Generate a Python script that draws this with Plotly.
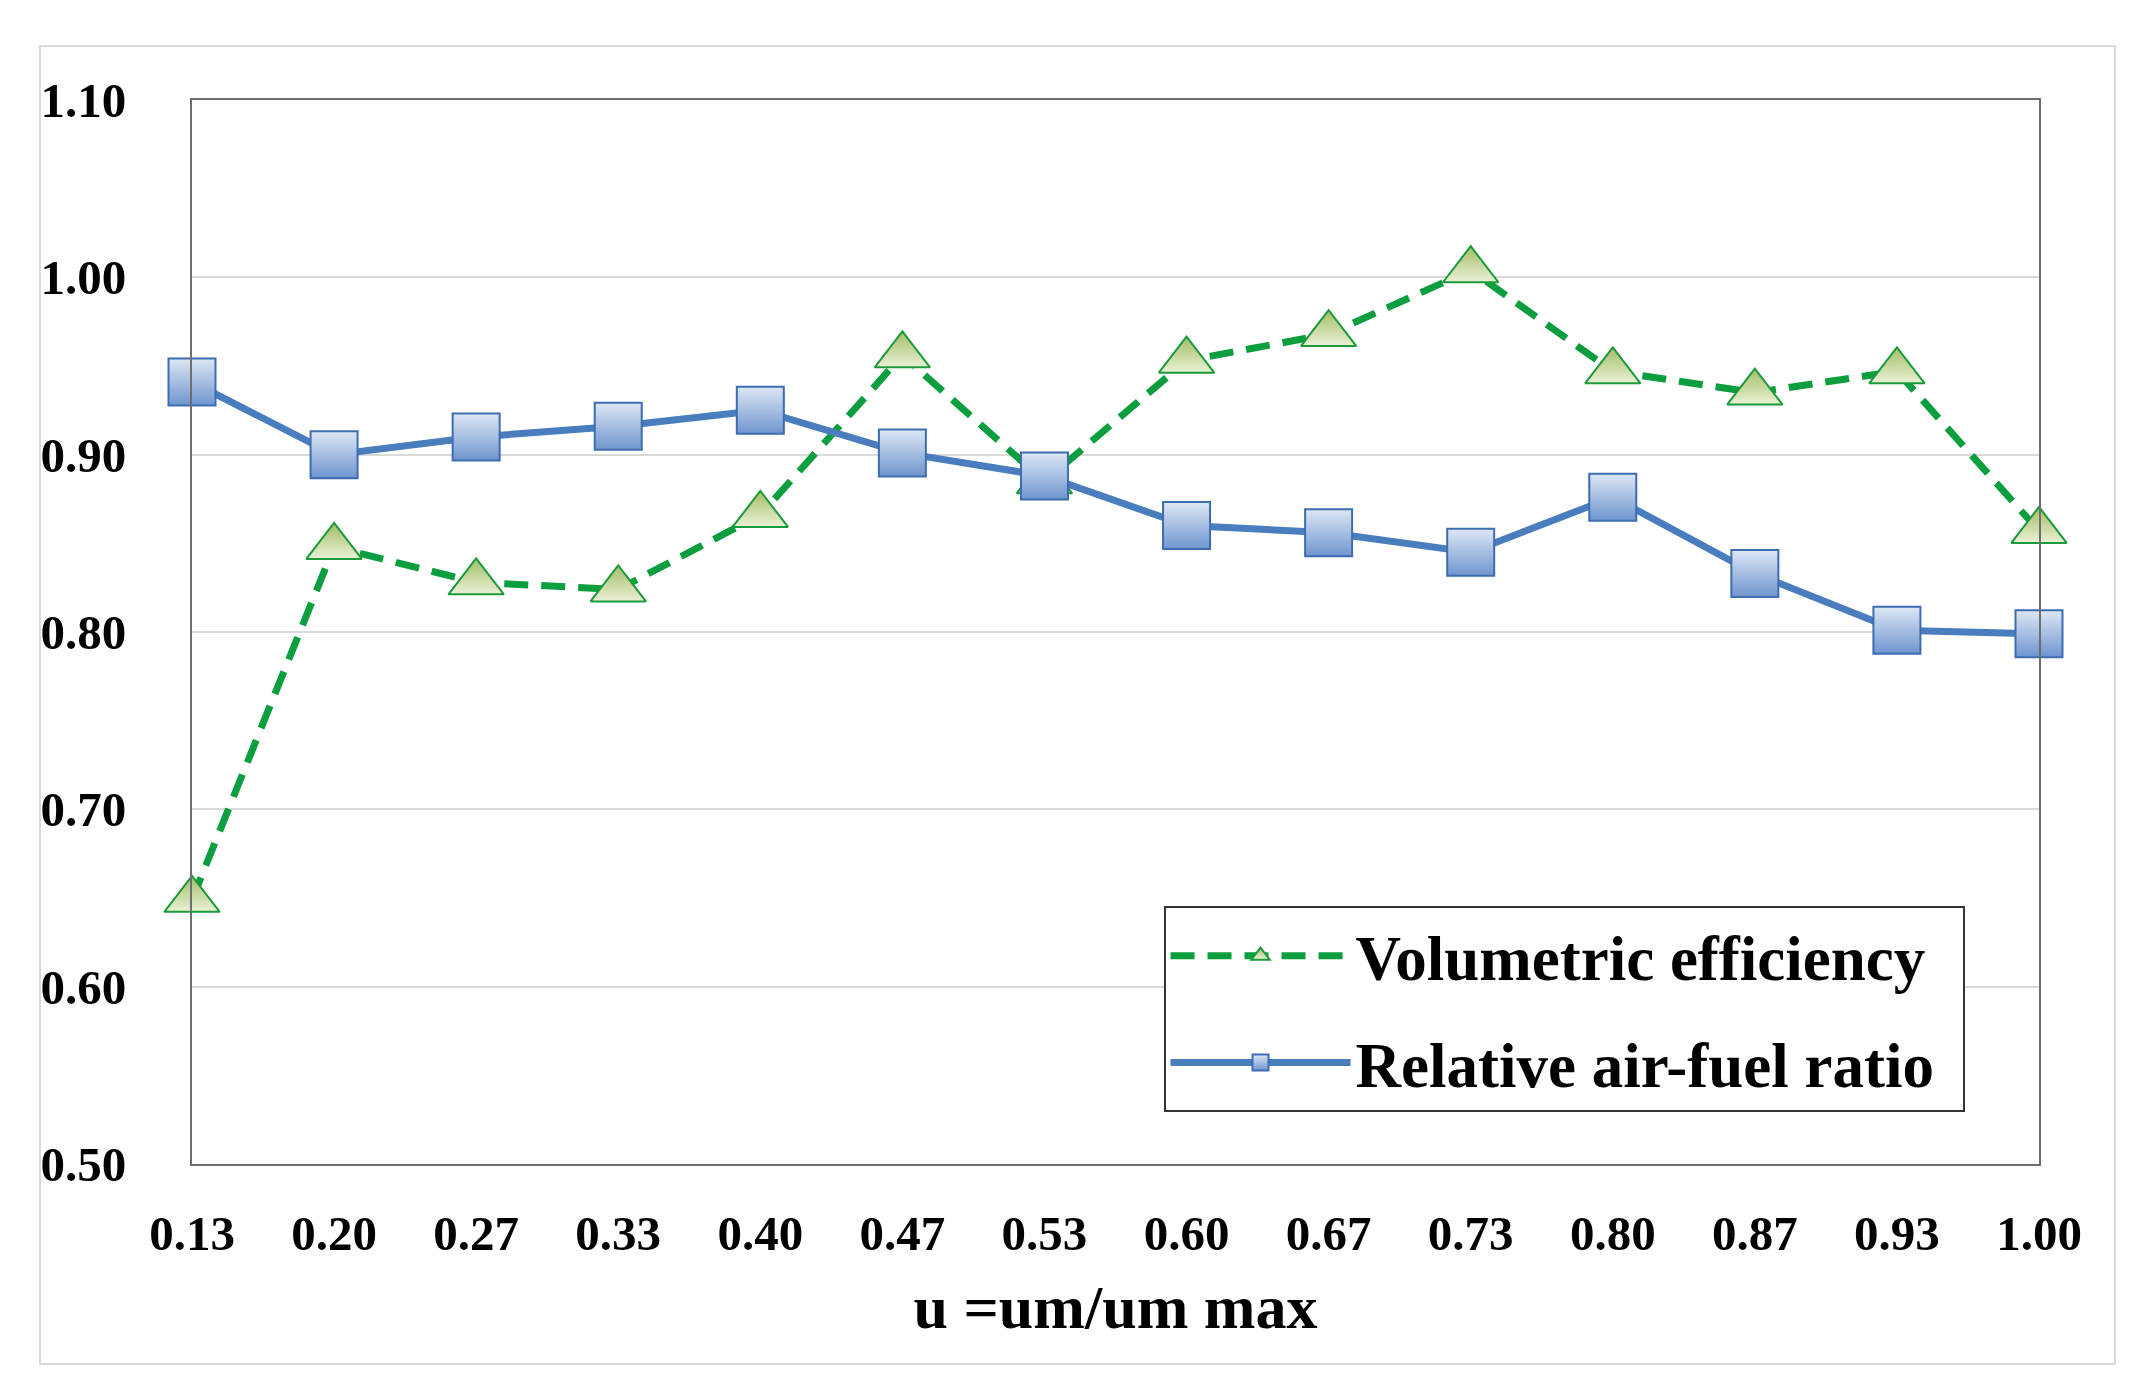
import plotly.graph_objects as go

# ---- data ----
u_labels = ["0.13", "0.20", "0.27", "0.33", "0.40", "0.47", "0.53",
            "0.60", "0.67", "0.73", "0.80", "0.87", "0.93", "1.00"]
volumetric_efficiency = [0.649, 0.848, 0.828, 0.824, 0.866, 0.956, 0.885,
                         0.953, 0.968, 1.004, 0.947, 0.935, 0.947, 0.857]
relative_air_fuel_ratio = [0.941, 0.900, 0.910, 0.916, 0.925, 0.901, 0.888,
                           0.860, 0.856, 0.845, 0.876, 0.833, 0.801, 0.799]
y_tick_values = [0.50, 0.60, 0.70, 0.80, 0.90, 1.00, 1.10]

FONT = "Liberation Serif"

fig = go.Figure()

fig.add_trace(go.Scatter(
    x=u_labels, y=volumetric_efficiency,
    name="Volumetric efficiency&nbsp;&nbsp;",
    mode="lines+markers",
    legendgroup="a",
    cliponaxis=False,
    line=dict(color="#0a9e3f", width=7, dash="24px,13px"),
    marker=dict(symbol="triangle-up", size=48,
                color="#a3bd66",
                gradient=dict(type="vertical", color="#eaf1d6"),
                line=dict(color="#1b9a3a", width=2)),
))

fig.add_trace(go.Scatter(
    x=u_labels, y=relative_air_fuel_ratio,
    name="Relative air-fuel ratio",
    mode="lines+markers",
    legendgroup="b",
    cliponaxis=False,
    line=dict(color="#4a7dbd", width=7),
    marker=dict(symbol="square", size=47,
                color="#dde7f4",
                gradient=dict(type="vertical", color="#6f95cf"),
                line=dict(color="#3d6db0", width=2)),
))

fig.update_layout(
    width=2140, height=1384,
    paper_bgcolor="white", plot_bgcolor="white",
    margin=dict(l=184, r=109, t=92, b=228),
    font=dict(family=FONT, color="black"),
    showlegend=True,
    legend=dict(
        x=0.526, y=0.2423, xanchor="left", yanchor="top",
        bgcolor="white", bordercolor="#333333", borderwidth=2,
        font=dict(family=FONT, size=63, color="black", weight="bold"),
        traceorder="grouped", tracegroupgap=22,
        itemwidth=180,
    ),
    xaxis=dict(
        type="category", range=[0, 13],
        showgrid=False, zeroline=False,
        showline=True, mirror=True, linecolor="#6e6e6e", linewidth=2,
        ticks="", ticklabelstandoff=25,
        tickfont=dict(family=FONT, size=49, color="black", weight="bold"),
        title=dict(text="u =um/um max", standoff=25,
                   font=dict(family=FONT, size=62, color="black", weight="bold")),
    ),
    yaxis=dict(
        range=[0.5, 1.1], tickvals=y_tick_values, tickformat=".2f",
        showgrid=True, gridcolor="#d9d9d9", gridwidth=2,
        zeroline=False,
        showline=True, mirror=True, linecolor="#6e6e6e", linewidth=2,
        ticks="", ticklabelstandoff=54,
        tickfont=dict(family=FONT, size=49, color="black", weight="bold"),
    ),
    shapes=[dict(type="rect", xref="paper", yref="paper",
                 x0=-0.0823, x1=1.0411, y0=-0.188, y1=1.0508,
                 line=dict(color="#d9d9d9", width=2), layer="below")],
)

fig.write_html("out.html")
